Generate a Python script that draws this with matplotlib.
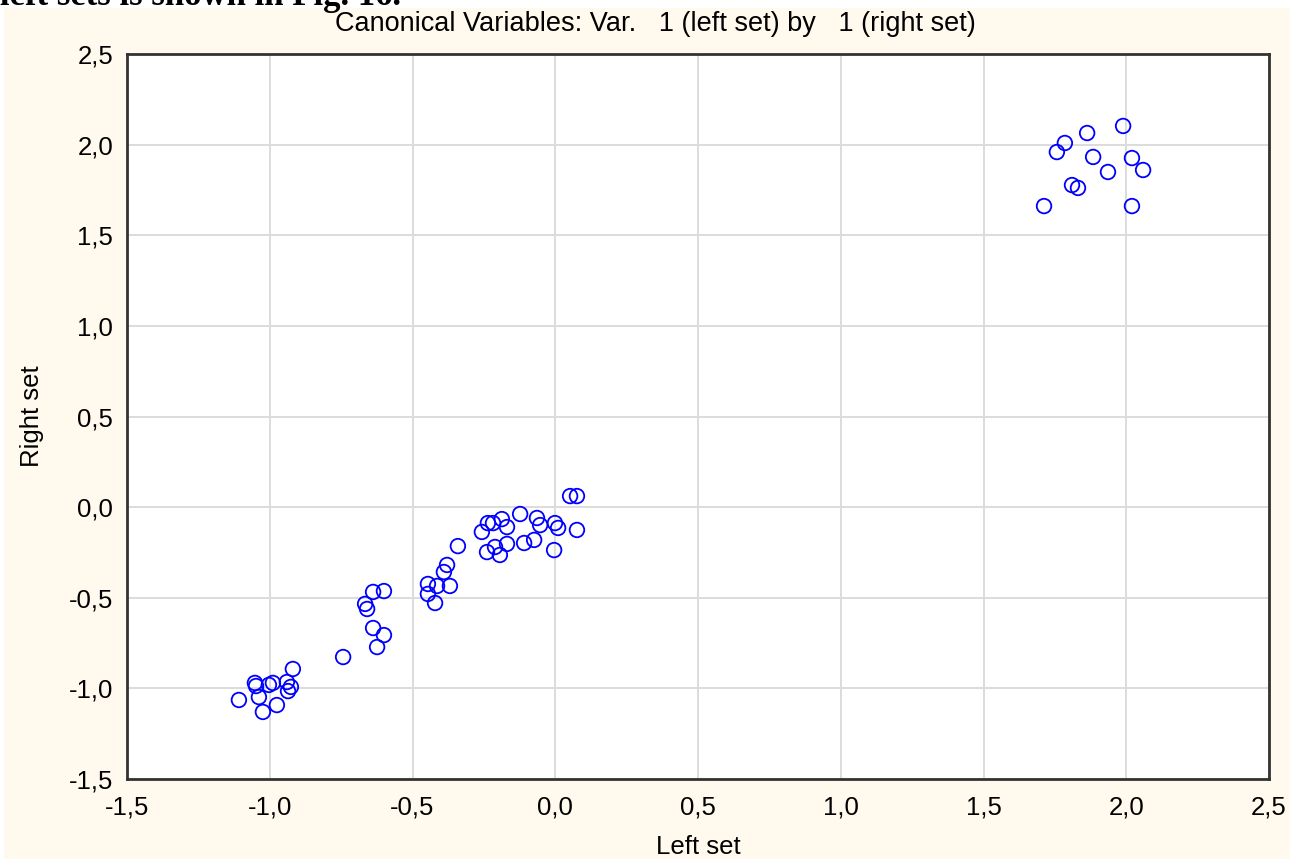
import matplotlib
matplotlib.use("Agg")
import matplotlib.pyplot as plt
from matplotlib.ticker import FuncFormatter, MultipleLocator
from matplotlib.patches import Rectangle

# canonical scores
left_set = [
    -1.108, -1.052, -1.048, -1.038, -1.024, -1.003, -0.989, -0.975, -0.940, -0.926,
    -0.936, -0.919, -0.743, -0.624,
    -0.638, -0.600, -0.666, -0.659, -0.638, -0.600, -0.341, -0.379, -0.390, -0.446,
    -0.414, -0.369, -0.446, -0.421,
    0.052, 0.076, -0.123, -0.064, -0.053, -0.001, 0.010, 0.076, -0.236, -0.218,
    -0.187, -0.169, -0.257, -0.239, -0.211, -0.194, -0.169, -0.109, -0.074, -0.004,
    1.989, 1.863, 1.785, 1.757, 1.884, 2.020, 2.059, 1.936, 1.810, 1.831, 1.712, 2.020,
]
right_set = [
    -1.064, -0.970, -0.987, -1.048, -1.130, -0.981, -0.970, -1.092, -0.965, -0.992,
    -1.015, -0.893, -0.827, -0.772,
    -0.468, -0.463, -0.534, -0.562, -0.667, -0.706, -0.215, -0.319, -0.358, -0.424,
    -0.435, -0.435, -0.479, -0.529,
    0.061, 0.061, -0.038, -0.060, -0.099, -0.088, -0.115, -0.126, -0.088, -0.088,
    -0.066, -0.110, -0.137, -0.248, -0.220, -0.264, -0.203, -0.198, -0.181, -0.237,
    2.103, 2.064, 2.009, 1.959, 1.932, 1.926, 1.860, 1.849, 1.777, 1.761, 1.661, 1.661,
]

plt.rcParams['font.family'] = ['Liberation Sans', 'DejaVu Sans']

fig = plt.figure(figsize=(12.9, 8.59), dpi=100, facecolor='#FFF9EE')
# white strip of the page above / left of the chart
fig.patches.append(Rectangle((0, 1 - 8 / 859), 1, 8 / 859, transform=fig.transFigure,
                             facecolor='white', edgecolor='none', zorder=0))
fig.patches.append(Rectangle((0, 0), 4 / 1290, 1, transform=fig.transFigure,
                             facecolor='white', edgecolor='none', zorder=0))
fig.text(0.0, 1 - 5 / 859, 'left sets is shown in Fig. 16.', family='Liberation Serif',
         fontweight='bold', fontsize=25, va='baseline', ha='left')

ax = fig.add_axes([127 / 1290, 80 / 859, 1142 / 1290, 725 / 859])
ax.set_facecolor('white')
ax.scatter(left_set, right_set, s=110, facecolors='none', edgecolors='#0000FF',
           linewidths=1.3, zorder=3)

ax.set_xlim(-1.5, 2.5)
ax.set_ylim(-1.5, 2.5)
ax.xaxis.set_major_locator(MultipleLocator(0.5))
ax.yaxis.set_major_locator(MultipleLocator(0.5))
fmt = FuncFormatter(lambda v, p: f'{v:.1f}'.replace('.', ','))
ax.xaxis.set_major_formatter(fmt)
ax.yaxis.set_major_formatter(fmt)
ax.grid(True, color='#DCDCDC', linewidth=1.4)
ax.set_axisbelow(True)
ax.tick_params(length=0, labelsize=18.5)
ax.tick_params(axis='x', pad=12)
ax.tick_params(axis='y', pad=10)
for sp in ax.spines.values():
    sp.set_linewidth(2)
    sp.set_color('#333333')

ax.set_ylabel('Right set', fontsize=18.5, labelpad=18)
fig.text(698 / 1290, 1 - 847 / 859, 'Left set', fontsize=18.5, ha='center', va='center')
fig.text(655 / 1290, 1 - 24 / 859, 'Canonical Variables: Var.   1 (left set) by   1 (right set)',
         fontsize=19.5, ha='center', va='center')

fig.savefig('out.png', dpi=100, facecolor=fig.get_facecolor())
